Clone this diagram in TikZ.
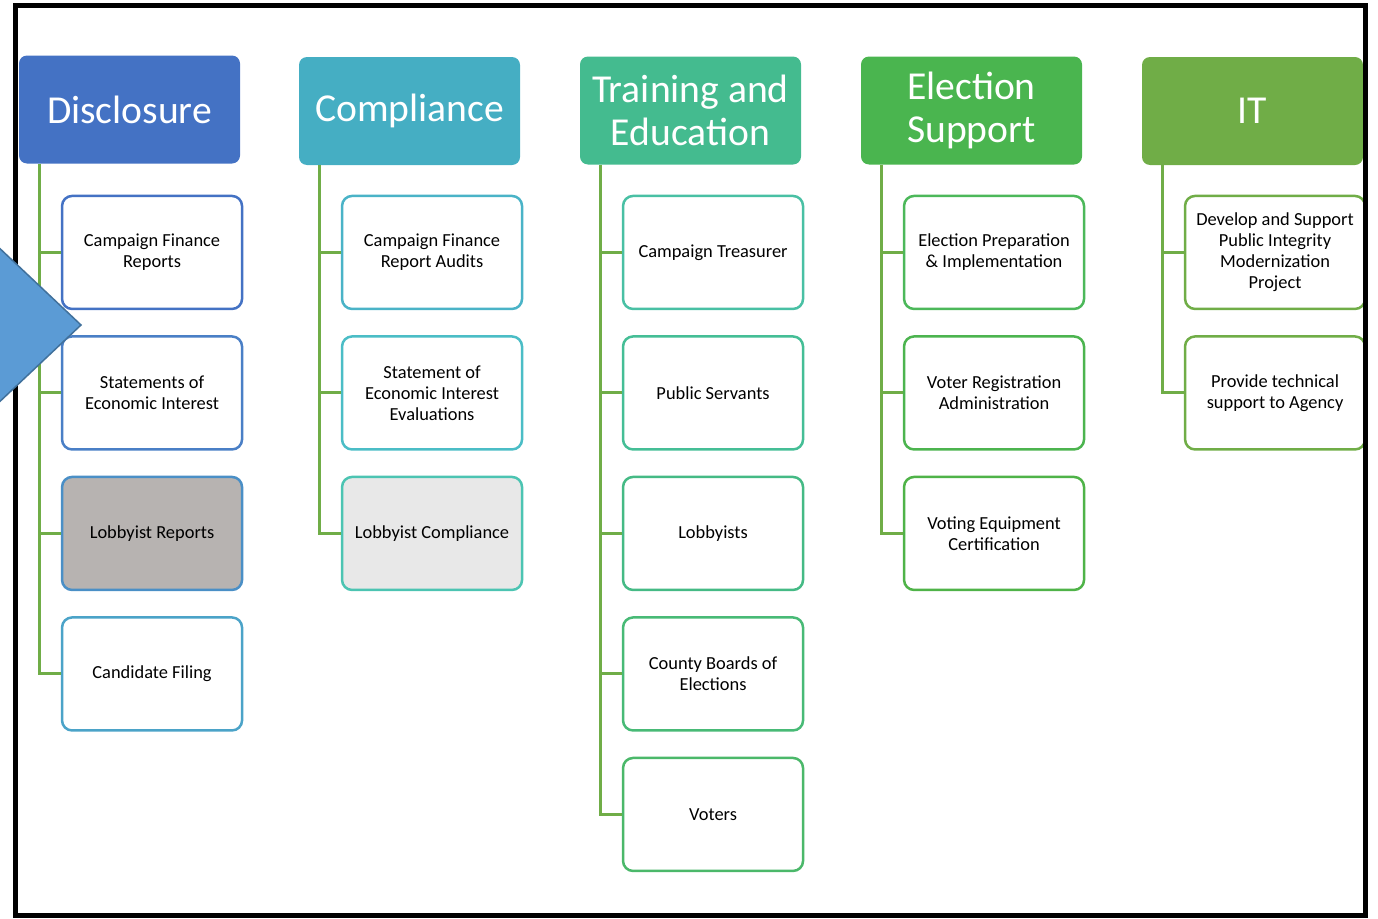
\documentclass[tikz,border=0pt]{standalone}
\usepackage{fontspec}
\setmainfont{Carlito}
\usetikzlibrary{positioning}
\definecolor{discblue}{HTML}{4472C4}
\definecolor{compteal}{HTML}{45AEC3}
\definecolor{trainteal}{HTML}{44BB8F}
\definecolor{elecgreen}{HTML}{4AB54F}
\definecolor{itgreen}{HTML}{70AD47}
\definecolor{linkgreen}{HTML}{70AD47}
\definecolor{chevblue}{HTML}{5B9BD5}
\definecolor{chevedge}{HTML}{41719C}
\tikzset{
    header/.style={rounded corners=8pt, minimum width=221pt, minimum height=108pt, inner sep=0pt, text=white, align=center, font=\fontsize{39.6}{43.5}\selectfont},
    item/.style={draw, rounded corners=10pt, line width=2.5pt, fill=white, minimum width=180pt, minimum height=113pt, inner sep=2pt, align=center, font=\fontsize{18.4}{21}\selectfont},
    link/.style={draw=linkgreen, line width=3pt}
}

\begin{document}
\begin{tikzpicture}
  [
    x = 1pt,
    y = -1pt,
    node distance = 25pt,
  ]
  \useasboundingbox (0,0) rectangle (1378,918);

  % column heads
  \node [header, fill=discblue]  (disc)  at (129.5,109.5)  {Disclosure};
  \node [header, fill=compteal]  (comp)  at (409.5,111)  {Compliance};
  \node [header, fill=trainteal] (train) at (690.5,110.5)  {Training and\\Education};
  \node [header, fill=elecgreen] (elec)  at (971.5,110.5)  {Election\\Support};
  \node [header, fill=itgreen]   (it)    at (1252.5,111) {IT};

  % Disclosure
  \node [item, draw=discblue, anchor=north west] (disc1) at ([xshift=42pt,yshift=-31pt]disc.south west) {Campaign Finance\\Reports};
  \node [item, draw={rgb,255:red,74;green,127;blue,198}, below=of disc1] (disc2) {Statements of\\Economic Interest};
  \node [item, draw={rgb,255:red,74;green,143;blue,198}, fill={rgb,255:red,183;green,179;blue,177}, below=of disc2] (disc3) {Lobbyist Reports};
  \node [item, draw={rgb,255:red,75;green,163;blue,200}, below=of disc3] (disc4) {Candidate Filing};

  % Compliance
  \node [item, draw={rgb,255:red,74;green,179;blue,199}, anchor=north west] (comp1) at ([xshift=42pt,yshift=-29.5pt]comp.south west) {Campaign Finance\\Report Audits};
  \node [item, draw={rgb,255:red,75;green,189;blue,198}, below=of comp1] (comp2) {Statement of\\Economic Interest\\Evaluations};
  \node [item, draw={rgb,255:red,76;green,196;blue,178}, fill={rgb,255:red,232;green,232;blue,232}, below=of comp2] (comp3) {Lobbyist Compliance};

  % Training and Education
  \node [item, draw={rgb,255:red,73;green,192;blue,164}, anchor=north west] (train1) at ([xshift=42pt,yshift=-30pt]train.south west) {Campaign Treasurer};
  \node [item, draw={rgb,255:red,69;green,190;blue,150}, below=of train1] (train2) {Public Servants};
  \node [item, draw={rgb,255:red,69;green,186;blue,133}, below=of train2] (train3) {Lobbyists};
  \node [item, draw={rgb,255:red,72;green,186;blue,118}, below=of train3] (train4) {County Boards of\\Elections};
  \node [item, draw={rgb,255:red,75;green,184;blue,106}, below=of train4] (train5) {Voters};

  % Election Support
  \node [item, draw={rgb,255:red,76;green,184;blue,90}, anchor=north west] (elec1) at ([xshift=42pt,yshift=-30pt]elec.south west) {Election Preparation\\\& Implementation};
  \node [item, draw={rgb,255:red,76;green,180;blue,79}, below=of elec1] (elec2) {Voter Registration\\Administration};
  \node [item, draw={rgb,255:red,79;green,179;blue,72}, below=of elec2] (elec3) {Voting Equipment\\Certification};

  % IT
  \node [item, draw=itgreen, anchor=north west] (it1) at ([xshift=42pt,yshift=-29.5pt]it.south west) {Develop and Support\\Public Integrity\\Modernization\\Project};
  \node [item, draw=itgreen, below=of it1] (it2) {Provide technical\\support to Agency};

  % trunks
  \coordinate (discT)  at ([xshift=20.5pt]disc.south west);
  \coordinate (compT)  at ([xshift=21pt]comp.south west);
  \coordinate (trainT) at ([xshift=21pt]train.south west);
  \coordinate (elecT)  at ([xshift=21pt]elec.south west);
  \coordinate (itT)    at ([xshift=21pt]it.south west);

  \draw [link] (discT) |- (disc4.west);
  \draw [link] (disc1.west) -- (disc1.west -| discT);
  \draw [link] (disc2.west) -- (disc2.west -| discT);
  \draw [link] (disc3.west) -- (disc3.west -| discT);

  \draw [link] (compT) |- (comp3.west);
  \draw [link] (comp1.west) -- (comp1.west -| compT);
  \draw [link] (comp2.west) -- (comp2.west -| compT);

  \draw [link] (trainT) |- (train5.west);
  \draw [link] (train1.west) -- (train1.west -| trainT);
  \draw [link] (train2.west) -- (train2.west -| trainT);
  \draw [link] (train3.west) -- (train3.west -| trainT);
  \draw [link] (train4.west) -- (train4.west -| trainT);

  \draw [link] (elecT) |- (elec3.west);
  \draw [link] (elec1.west) -- (elec1.west -| elecT);
  \draw [link] (elec2.west) -- (elec2.west -| elecT);

  \draw [link] (itT) |- (it2.west);
  \draw [link] (it1.west) -- (it1.west -| itT);

  % frame and pointer
  \draw [line width=5pt] (15.5,5.5) rectangle (1365.5,915.5);
  \filldraw [fill=chevblue, draw=chevedge, line width=1.5pt] (-6,243) -- (81,325) -- (-6,407) -- cycle;
\end{tikzpicture}
\end{document}
